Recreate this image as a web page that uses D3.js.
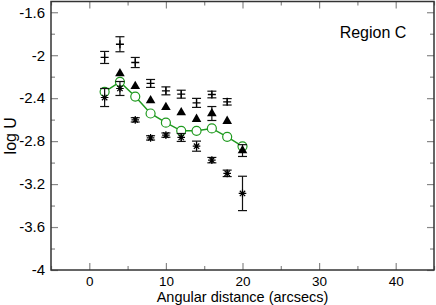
<!DOCTYPE html>
<html><head><meta charset="utf-8">
<script src="https://cdn.jsdelivr.net/npm/d3@7"></script>
<style>body{margin:0;background:#fff}svg{display:block}text{font-family:"Liberation Sans",Arial,sans-serif}</style>
</head><body><svg id="c" width="436" height="305"></svg>
<script>
const xTicks = [0, 10, 20, 30, 40];
const yTicks = [-1.6, -2, -2.4, -2.8, -3.2, -3.6, -4];
const distances = [2, 4, 6, 8, 10, 12, 14, 16, 18, 20];
// "+" series with error bars
const plusX = [2, 4, 6, 8, 10, 12, 14, 16, 18];
const plusY = [-2.021, -1.898, -2.068, -2.263, -2.332, -2.363, -2.444, -2.366, -2.434];
const plusErr = [0.056, 0.07, 0.047, 0.037, 0.037, 0.037, 0.042, 0.031, 0.03];
// filled triangles
const triX = [4, 6, 8, 10, 12, 14, 16, 18, 20];
const triY = [-2.17, -2.29, -2.422, -2.484, -2.533, -2.595, -2.543, -2.614, -2.888];
const triErr = [0, 0, 0, 0, 0, 0, 0.065, 0, 0.055];
// asterisks with error bars
const astX = [2, 4, 6, 8, 10, 12, 14, 16, 18, 20];
const astY = [-2.394, -2.31, -2.602, -2.77, -2.744, -2.766, -2.847, -2.977, -3.1, -3.287];
const astErr = [0.084, 0.065, 0.02, 0.02, 0.02, 0.037, 0.047, 0.025, 0.03, 0.16];
// green line with open circles
const circY = [-2.341, -2.248, -2.385, -2.543, -2.628, -2.704, -2.704, -2.682, -2.76, -2.848];

const svg = d3.select("#c");
const L = 51, R = 434, T = 1.5, B = 270;
const x = d3.scaleLinear().domain([-5, 45]).range([L, R]);
const y = d3.scaleLinear().domain([-4, -1.5]).range([B, T]);

const tickCol = "#888", frameCol = "#333";
function minorTicks(sel){ sel.selectAll("line").attr("stroke", tickCol).attr("stroke-width",1.2); sel.select(".domain").remove(); }

// minor ticks
const xMinor = d3.range(-5, 46, 5).filter(v => v % 10 !== 0);
const yMinor = d3.range(-3.8, -1.5, 0.4).map(v => +v.toFixed(1));
svg.append("g").attr("transform",`translate(0,${B})`).call(d3.axisBottom(x).tickValues(xMinor).tickSize(-4).tickFormat("")).call(minorTicks);
svg.append("g").attr("transform",`translate(0,${T})`).call(d3.axisTop(x).tickValues(xMinor).tickSize(-4).tickFormat("")).call(minorTicks);
svg.append("g").attr("transform",`translate(${L},0)`).call(d3.axisLeft(y).tickValues(yMinor).tickSize(-4).tickFormat("")).call(minorTicks);
svg.append("g").attr("transform",`translate(${R},0)`).call(d3.axisRight(y).tickValues(yMinor).tickSize(-4).tickFormat("")).call(minorTicks);

function major(sel){ sel.select(".domain").remove(); sel.selectAll("line").attr("stroke", tickCol).attr("stroke-width",1.2);
  sel.selectAll("text").attr("fill","#000").style("font-size","15px").style("font-family",'"Liberation Sans",Arial,sans-serif'); }
const fmt = d => String(d);
const bx = svg.append("g").attr("transform",`translate(0,${B})`).call(d3.axisBottom(x).tickValues(xTicks).tickSize(-7).tickPadding(6.2).tickFormat(fmt)).call(major);
bx.selectAll("text").style("font-size","13.5px");
svg.append("g").attr("transform",`translate(0,${T})`).call(d3.axisTop(x).tickValues(xTicks).tickSize(-7).tickFormat("")).call(major);
svg.append("g").attr("transform",`translate(${L},0)`).call(d3.axisLeft(y).tickValues(yTicks).tickSize(-7).tickPadding(6).tickFormat(fmt)).call(major);
svg.append("g").attr("transform",`translate(${R},0)`).call(d3.axisRight(y).tickValues(yTicks).tickSize(-7).tickFormat("")).call(major);

svg.append("rect").attr("x",L).attr("y",T).attr("width",R-L).attr("height",B-T).attr("fill","none").attr("stroke",frameCol).attr("stroke-width",1.5);

// titles
svg.append("text").attr("x",(L+R)/2).attr("y",301.7).attr("text-anchor","middle").style("font-size","14.5px").text("Angular distance (arcsecs)");
svg.append("text").attr("transform",`translate(16,${(T+B)/2}) rotate(-90)`).attr("text-anchor","middle").style("font-size","16px").text("log U");
svg.append("text").attr("x",373).attr("y",38).attr("text-anchor","middle").style("font-size","16px").text("Region C");

const plot = svg.append("g");
const green = "#1f9a1f";
// green line + circles
plot.append("path").datum(distances.map((d,i)=>[d,circY[i]]))
  .attr("d", d3.line().x(d=>x(d[0])).y(d=>y(d[1])))
  .attr("fill","none").attr("stroke",green).attr("stroke-width",1.5);
plot.selectAll(".circ").data(distances.map((d,i)=>[d,circY[i]])).join("circle")
  .attr("cx",d=>x(d[0])).attr("cy",d=>y(d[1])).attr("r",4.5)
  .attr("fill","white").attr("stroke",green).attr("stroke-width",1.2);

function errBars(xs, ys, es){
  const g = plot.append("g").attr("stroke","#111").attr("stroke-width",1.2);
  xs.forEach((d,i)=>{
    if(!es[i]) return;
    const cx = x(d), y0 = y(ys[i]-es[i]), y1 = y(ys[i]+es[i]);
    g.append("line").attr("x1",cx).attr("x2",cx).attr("y1",y0).attr("y2",y1);
    g.append("line").attr("x1",cx-4.5).attr("x2",cx+4.5).attr("y1",y0).attr("y2",y0);
    g.append("line").attr("x1",cx-4.5).attr("x2",cx+4.5).attr("y1",y1).attr("y2",y1);
  });
}
errBars(plusX, plusY, plusErr);
errBars(triX, triY, triErr);
errBars(astX, astY, astErr);

// plus markers
plusX.forEach((d,i)=>{
  const cx=x(d), cy=y(plusY[i]);
  plot.append("path").attr("d",`M${cx-4},${cy}H${cx+4}M${cx},${cy-4}V${cy+4}`).attr("stroke","#000").attr("stroke-width",1.3);
});
// triangles
plot.selectAll(".tri").data(triX.map((d,i)=>[d,triY[i]])).join("path")
  .attr("transform",d=>`translate(${x(d[0])},${y(d[1])})`)
  .attr("d", d3.symbol().type(d3.symbolTriangle).size(40)).attr("fill","#000");
// asterisks
astX.forEach((d,i)=>{
  const cx=x(d), cy=y(astY[i]), r=3.8, r2=2.7;
  plot.append("path").attr("d",
    `M${cx-r},${cy}H${cx+r}M${cx},${cy-r}V${cy+r}M${cx-r2},${cy-r2}L${cx+r2},${cy+r2}M${cx-r2},${cy+r2}L${cx+r2},${cy-r2}`)
    .attr("stroke","#000").attr("stroke-width",1.2);
});
</script></body></html>
